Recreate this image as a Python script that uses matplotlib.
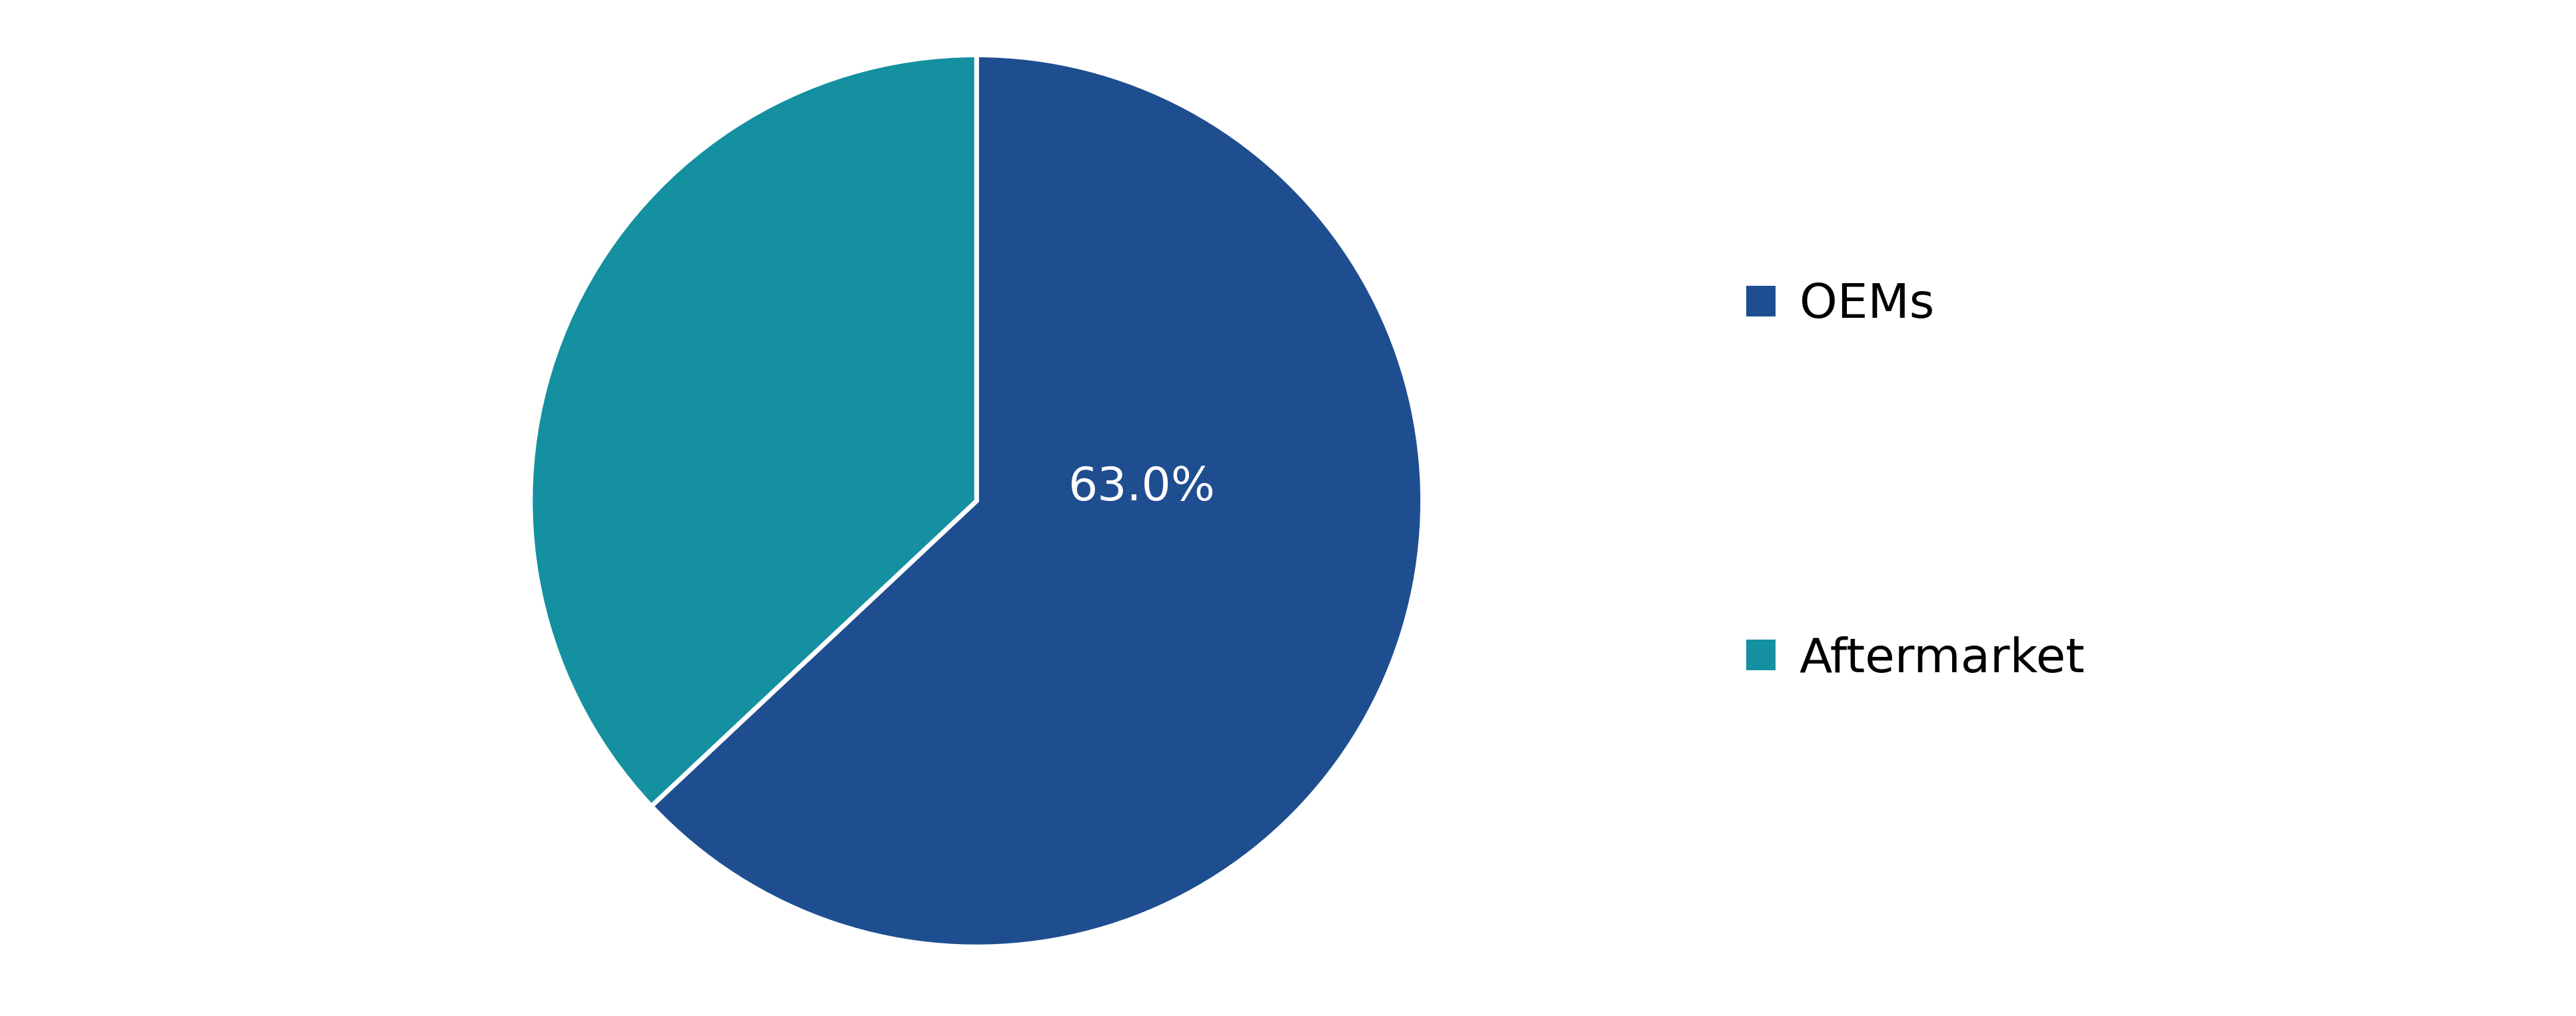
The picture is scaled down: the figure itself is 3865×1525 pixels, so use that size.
import matplotlib.pyplot as plt
from matplotlib.patches import Patch

labels = ['OEMs', 'Aftermarket']
shares = [63.0, 37.0]
colors = ['#1f4e90', '#1490a0']

fig = plt.figure(figsize=(38.66, 15.25), dpi=100)
ax = fig.add_axes([0.379 - 0.174, 0.507 - 0.4415, 0.348, 0.883])

wedges, texts, autotexts = ax.pie(
    shares, colors=colors, startangle=90, counterclock=False,
    autopct=lambda p: f'{p:.1f}%' if p > 50 else '',
    wedgeprops=dict(edgecolor='white', linewidth=5),
    textprops=dict(color='white', fontsize=50))
autotexts[0].set_position((0.37, 0.03))
ax.set_xlim(-1.005, 1.005)
ax.set_ylim(-1.005, 1.005)
ax.set_aspect('equal')

handles = [Patch(facecolor=c, label=l) for c, l in zip(colors, labels)]
fig.legend(handles=handles, loc='upper left', bbox_to_anchor=(0.661, 0.765),
           frameon=False, fontsize=52, handlelength=0.6, handleheight=0.6,
           handletextpad=0.5, labelspacing=6.4)

fig.savefig('out.png', dpi=100)
